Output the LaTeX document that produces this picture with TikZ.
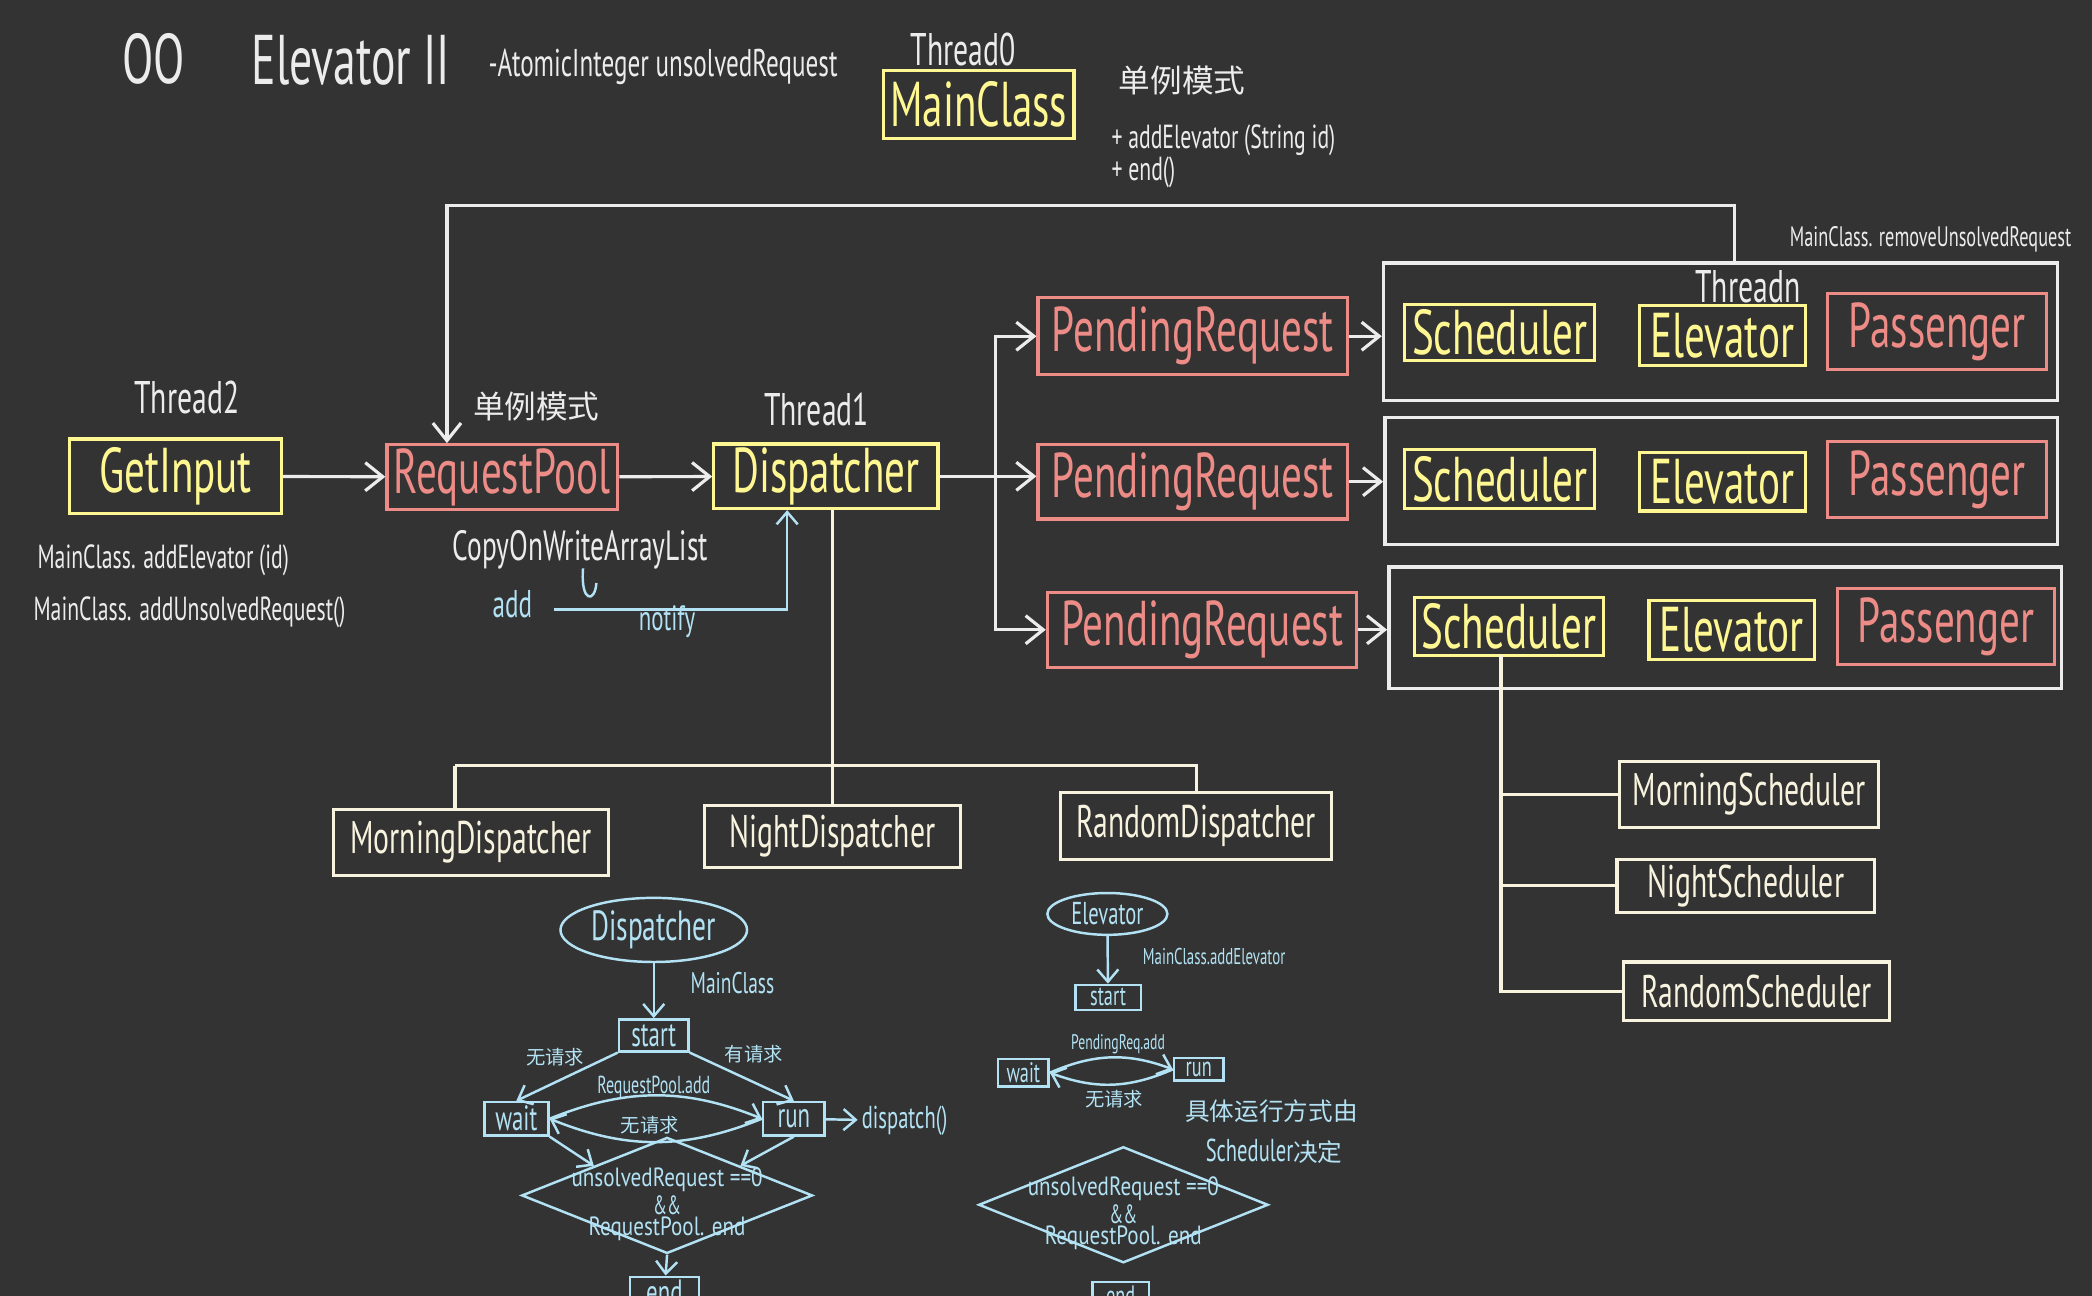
\documentclass[tikz,border=0pt]{standalone}
\usepackage{fontspec}
\usepackage{graphicx}
\setmainfont{PT Sans}
\newfontfamily\cjk{Noto Sans CJK SC}
\usetikzlibrary{shapes.geometric,arrows.meta}

\definecolor{board}{RGB}{51,51,51}
\definecolor{chalk}{RGB}{236,236,236}
\definecolor{hyellow}{RGB}{254,247,146}
\definecolor{hred}{RGB}{237,139,135}
\definecolor{hblue}{RGB}{178,226,243}
\definecolor{hcream}{RGB}{247,243,222}

\newdimen\pxu \pxu=0.013342cm
\newcommand\hw[1]{\scalebox{0.65}[1]{#1}}

\tikzset{
  sz/.style 2 args={minimum width=#1*\pxu, minimum height=#2*\pxu},
  fbig/.style={font=\fontsize{18}{20}\selectfont},
  fmid/.style={font=\fontsize{13}{15}\selectfont},
  fsml/.style={font=\fontsize{9.5}{11}\selectfont},
  ftiny/.style={font=\fontsize{7}{8}\selectfont},
  ybox/.style={draw=hyellow, text=hyellow, line width=0.9pt, fbig},
  rbox/.style={draw=hred, text=hred, line width=0.9pt, fbig},
  frame/.style={draw=chalk, line width=1pt},
  cbox/.style={draw=hcream, text=hcream, line width=0.9pt, fmid},
  bbox/.style={draw=hblue, text=hblue, line width=0.7pt},
  note/.style={text=chalk},
  bnote/.style={text=hblue},
  cond/.style={bbox, diamond, sz={#1}{87}, inner sep=0pt,
    label={[bnote, align=center, yshift=-2.5pt, font=\fontsize{7.5}{6}\selectfont]center:
      \scalebox{0.8}[1]{unsolvedRequest ==0}\\\hw{\&\&}\\\scalebox{0.8}[1]{RequestPool. end}}},
  wire/.style={chalk, line width=0.9pt},
  cwire/.style={hcream, line width=0.9pt},
  bwire/.style={hblue, line width=0.7pt, >={Straight Barb[length=3.5pt,width=6pt]}},
}

\begin{document}
\begin{tikzpicture}[x=0.013342cm, y=-0.013342cm, every node/.style={inner sep=1pt},
  >={Straight Barb[length=5pt,width=8pt]}]
\fill[board] (0,0) rectangle (1568,971);
\clip (0,0) rectangle (1568,971);

% title and MainClass
\node[note, font=\fontsize{20}{22}\selectfont] (oo) at (115,44) {\hw{OO}};
\node[note, font=\fontsize{20}{22}\selectfont] (title) at (263,45) {\hw{Elevator II}};
\node[note, font=\fontsize{11}{13}\selectfont] (atomic) at (497,50) {\hw{-AtomicInteger unsolvedRequest}};
\node[note, fmid] (t0) at (722,37) {\hw{Thread0}};
\node[ybox, sz={143}{51}] (main) at (733.5,78.5) {\hw{MainClass}};
\node[note, font=\cjk\fontsize{9}{10}\selectfont] (single1) at (886,60) {单例模式};
\node[note, fsml, anchor=west] (opadd) at (830,105) {\hw{+ addElevator (String id)}};
\node[note, fsml, anchor=west] (opend) at (830,129) {\hw{+ end()}};

% input side
\node[note, fmid] (t2) at (140,298) {\hw{Thread2}};
\node[ybox, sz={159}{56}] (getin) at (131.5,357) {\hw{GetInput}};
\node[rbox, sz={173}{43}] (reqpool) at (376.5,357.5) {\hw{RequestPool}};
\node[note, font=\cjk\fontsize{9}{10}\selectfont] (single2) at (402,305) {单例模式};
\node[note, fmid] (t1) at (612,307) {\hw{Thread1}};
\node[ybox, sz={168}{42}] (disp) at (619,357) {\hw{Dispatcher}};
\node[note, fsml, anchor=west] (calladd) at (25,420) {\hw{MainClass. addElevator (id)}};
\node[note, fsml, anchor=west] (callun) at (22,459) {\hw{MainClass. addUnsolvedRequest()}};
\node[note, font=\fontsize{12}{14}\selectfont] (cow) at (435,412) {\hw{CopyOnWriteArrayList}};
\node[bnote, font=\fontsize{11}{13}\selectfont] (addlbl) at (384,453) {\hw{add}};
\node[bnote, font=\fontsize{10}{12}\selectfont] (notify) at (500,466) {\hw{notify}};

% elevator threads
\node[note, font=\fontsize{8}{10}\selectfont] (remove) at (1447,179) {\hw{MainClass. removeUnsolvedRequest}};
\node[frame, sz={505}{103}] (row1) at (1289.5,248.5) {};
\node[frame, sz={504}{95}] (row2) at (1290,360.5) {};
\node[frame, sz={504}{91}] (row3) at (1293,470.5) {};
\node[note, fmid] (tn) at (1310,215) {\hw{Threadn}};
\node[rbox, sz={232}{58}] (pr1) at (894,252) {\hw{PendingRequest}};
\node[rbox, sz={232}{56}] (pr2) at (894,361) {\hw{PendingRequest}};
\node[rbox, sz={232}{56}] (pr3) at (901,472) {\hw{PendingRequest}};
\node[ybox, sz={142}{42}] (sch1) at (1124,249) {\hw{Scheduler}};
\node[ybox, sz={124}{45}] (elev1) at (1291,251.5) {\hw{Elevator}};
\node[rbox, sz={164}{57}] (pass1) at (1452,248.5) {\hw{Passenger}};
\node[ybox, sz={142}{44}] (sch2) at (1124,359) {\hw{Scheduler}};
\node[ybox, sz={124}{44}] (elev2) at (1291,361) {\hw{Elevator}};
\node[rbox, sz={164}{57}] (pass2) at (1452,359.5) {\hw{Passenger}};
\node[ybox, sz={142}{43}] (sch3) at (1131,469.5) {\hw{Scheduler}};
\node[ybox, sz={124}{44}] (elev3) at (1298,472) {\hw{Elevator}};
\node[rbox, sz={163}{57}] (pass3) at (1458.5,469.5) {\hw{Passenger}};

% strategies
\node[cbox, sz={206}{49}] (mornd) at (353,631.5) {\hw{MorningDispatcher}};
\node[cbox, sz={192}{46}] (nightd) at (624,627) {\hw{NightDispatcher}};
\node[cbox, sz={203}{50}] (randd) at (896.5,619) {\hw{RandomDispatcher}};
\node[cbox, sz={194}{49}] (morns) at (1311,595.5) {\hw{MorningScheduler}};
\node[cbox, sz={193}{40}] (nights) at (1308.5,664) {\hw{NightScheduler}};
\node[cbox, sz={199}{44}] (rands) at (1316.5,743) {\hw{RandomScheduler}};

% main connectors
\coordinate (loopr) at (1300,154);
\coordinate (loopl) at (335,154);
\coordinate (fork) at (746,357);
\coordinate (ncorner) at (590,457);
\coordinate (naddr) at (415,457);
\coordinate (djoin) at (624,574);
\coordinate (strunk) at (1125,491);
\draw[wire,->] (getin) -- (reqpool);
\draw[wire,->] (reqpool) -- (disp);
\draw[wire,->] (disp.east) -- (pr2.west |- disp.east);
\draw[wire,->] (fork) |- (pr1.west);
\draw[wire,->] (fork) |- (pr3.west);
\draw[wire,->] (pr1.east) -- (pr1.east -| row1.west);
\draw[wire,->] (pr2.east) -- (pr2.east -| row2.west);
\draw[wire,->] (pr3.east) -- (pr3.east -| row3.west);
\draw[wire,->] (loopr |- row1.north) -- (loopr) -- (loopl) -- (loopl |- reqpool.north);
\draw[bwire,->] (naddr) -- (ncorner) -- (ncorner |- disp.south);
\draw[bwire] (437,426) .. controls (435,452) and (446,452) .. (447,437);
\draw[cwire] (djoin |- disp.south) -- (djoin |- nightd.north);
\draw[cwire] (341,574) -- (randd.north |- djoin) -- (randd.north);
\draw[cwire] (341,574) -- (341,0 |- mornd.north);
\draw[cwire] (strunk) -- (strunk |- rands.west) -- (rands.west);
\draw[cwire] (strunk |- morns.west) -- (morns.west);
\draw[cwire] (strunk |- nights.west) -- (nights.west);

% dispatcher flow
\node[bbox, ellipse, sz={124}{34}, font=\fontsize{12}{14}\selectfont] (fdisp) at (490,697) {\hw{Dispatcher}};
\node[bbox, sz={52}{24}, font=\fontsize{10}{12}\selectfont] (start1) at (490,776) {\hw{start}};
\node[bbox, sz={48}{25}, font=\fontsize{10}{12}\selectfont] (wait1) at (387,838.5) {\hw{wait}};
\node[bbox, sz={46}{25}, font=\fontsize{10}{12}\selectfont] (run1) at (595,838.5) {\hw{run}};
\node[cond={218}] (dia1) at (500,896) {};
\node[bbox, sz={52}{24}, font=\fontsize{10}{12}\selectfont] (end1) at (498,969) {\hw{end}};
\node[bnote, font=\fontsize{8.5}{10}\selectfont] (lmain) at (549,737) {\hw{MainClass}};
\node[bnote, font=\cjk\fontsize{5.5}{6}\selectfont] (lnone1) at (416,792) {无请求};
\node[bnote, font=\cjk\fontsize{5.5}{6}\selectfont] (lhas) at (565,790) {有请求};
\node[bnote, ftiny] (lpool) at (490,815) {\hw{RequestPool.add}};
\node[bnote, font=\cjk\fontsize{5.5}{6}\selectfont] (lnone2) at (487,843) {无请求};
\node[bnote, font=\fontsize{9}{11}\selectfont] (dsp) at (678,840) {\hw{dispatch()}};
\draw[bwire,->] (fdisp) -- (start1);
\draw[bwire,->] (start1.south west) -- (wait1.north);
\draw[bwire,->] (start1.south east) -- (run1.north);
\draw[bwire,->] (wait1.east) to[bend left=22] (run1.west);
\draw[bwire,->] (run1.west) to[bend left=22] (wait1.east);
\draw[bwire,->] (run1) -- (dsp);
\draw[bwire,->] (wait1.south east) -- (dia1.north west);
\draw[bwire,->] (run1.south) -- (dia1.north east);
\draw[bwire,->] (dia1.south) -- (end1);

% elevator flow
\node[bbox, ellipse, sz={90}{26}, font=\fontsize{9}{11}\selectfont] (felev) at (830,685) {\hw{Elevator}};
\node[bbox, sz={49}{17}, font=\fontsize{8}{9}\selectfont] (start2) at (830.5,747.5) {\hw{start}};
\node[bbox, sz={38}{16}, font=\fontsize{8}{9}\selectfont] (wait2) at (767,804) {\hw{wait}};
\node[bbox, sz={37}{17}, font=\fontsize{8}{9}\selectfont] (run2) at (898.5,801.5) {\hw{run}};
\node[cond={217}] (dia2) at (842,903) {};
\node[bbox, sz={42}{18}, font=\fontsize{8}{9}\selectfont] (end2) at (840,971) {\hw{end}};
\node[bnote, font=\fontsize{6.5}{8}\selectfont] (laddel) at (910,717) {\hw{MainClass.addElevator}};
\node[bnote, font=\fontsize{6}{7}\selectfont] (lpend) at (838,783) {\hw{PendingReq.add}};
\node[bnote, font=\cjk\fontsize{5.5}{6}\selectfont] (lnone3) at (835,824) {无请求};
\node[bnote, font=\cjk\fontsize{7}{8}\selectfont] (lrun) at (953,833) {具体运行方式由};
\node[bnote, font=\fontsize{9}{11}\selectfont] (lsch) at (955,863) {\hw{Scheduler}{\cjk\fontsize{7}{8}\selectfont 决定}};
\draw[bwire,->] (felev) -- (start2);
\draw[bwire,->] (wait2.east) to[bend left=22] (run2.west);
\draw[bwire,->] (run2.west) to[bend left=22] (wait2.east);
\end{tikzpicture}
\end{document}
